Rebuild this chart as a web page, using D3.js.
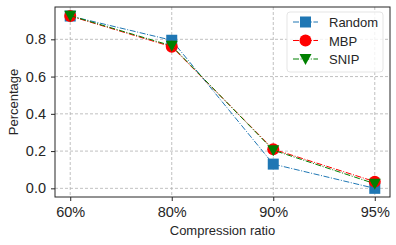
<!DOCTYPE html>
<html><head><meta charset="utf-8">
<script src="https://cdn.jsdelivr.net/npm/d3@7"></script>
<style>body{margin:0;background:#fff}svg{display:block}text{font-family:"Liberation Sans",Arial,sans-serif;fill:#262626}</style>
</head><body>
<svg id="c" width="396" height="245"></svg>
<script>
const categories = ["60%", "80%", "90%", "95%"];
const random = [0.925, 0.795, 0.13, 0.0];
const mbp = [0.925, 0.76, 0.21, 0.036];
const snip = [0.927, 0.765, 0.205, 0.025];
const yTicks = [0.0, 0.2, 0.4, 0.6, 0.8];
const seriesNames = ["Random", "MBP", "SNIP"];

const series = [
  {name: seriesNames[0], values: random, color: "#1f77b4", marker: "square"},
  {name: seriesNames[1], values: mbp, color: "#ff0000", marker: "circle"},
  {name: seriesNames[2], values: snip, color: "#008000", marker: "tridown"}
];

const svg = d3.select("#c");
const L = 55, R = 390, T = 7, B = 197;
const x = d3.scalePoint().domain(categories).range([L, R]).padding(0.15 / 1 * 1 / 1).align(0.5);
// padding in step units: matplotlib 5% margin of 3 steps = 0.15 step
x.padding(0.15);
const y = d3.scaleLinear().domain([-0.0465, 0.9735]).range([B, T]);

// grid
const g = svg.append("g");
g.selectAll(".gx").data(categories).enter().append("line")
  .attr("x1", d => x(d)).attr("x2", d => x(d)).attr("y1", T).attr("y2", B)
  .attr("stroke", "#b0b0b0").attr("stroke-width", 0.8).attr("stroke-dasharray", "3,2");
g.selectAll(".gy").data(yTicks).enter().append("line")
  .attr("x1", L).attr("x2", R).attr("y1", d => y(d)).attr("y2", d => y(d))
  .attr("stroke", "#b0b0b0").attr("stroke-width", 0.8).attr("stroke-dasharray", "3,2");

// axes
const xa = svg.append("g").attr("transform", `translate(0,${B})`)
  .call(d3.axisBottom(x).tickSize(4).tickPadding(6));
const ya = svg.append("g").attr("transform", `translate(${L},0)`)
  .call(d3.axisLeft(y).tickValues(yTicks).tickFormat(d3.format(".1f")).tickSize(4).tickPadding(5));
[xa, ya].forEach(a => {
  a.select(".domain").remove();
  a.selectAll("line").attr("stroke", "#262626").attr("stroke-width", 1);
  a.selectAll("text").attr("font-size", 14.5).attr("fill", "#262626")
    .style("font-family", '"Liberation Sans",Arial,sans-serif');
});

// frame
svg.append("rect").attr("x", L).attr("y", T).attr("width", R - L).attr("height", B - T)
  .attr("fill", "none").attr("stroke", "#262626").attr("stroke-width", 1);

// labels
svg.append("text").attr("x", (L + R) / 2).attr("y", 235).attr("text-anchor", "middle")
  .attr("font-size", 13).text("Compression ratio");
svg.append("text").attr("transform", `translate(18,${(T + B) / 2}) rotate(-90)`)
  .attr("text-anchor", "middle").attr("font-size", 13).text("Percentage");

function drawMarker(sel, type, color) {
  if (type === "square") {
    sel.append("rect").attr("x", -5.5).attr("y", -5.5).attr("width", 11).attr("height", 11).attr("fill", color);
  } else if (type === "circle") {
    sel.append("circle").attr("r", 6).attr("fill", color);
  } else {
    sel.append("path").attr("d", "M-6,-5 L6,-5 L0,6 Z").attr("fill", color);
  }
}

const line = d3.line().x((d, i) => x(categories[i])).y(d => y(d));
series.forEach(s => {
  svg.append("path").attr("d", line(s.values)).attr("fill", "none")
    .attr("stroke", s.color).attr("stroke-width", 1).attr("stroke-dasharray", "6,1.6,1,1.6");
  s.values.forEach((v, i) => {
    const m = svg.append("g").attr("transform", `translate(${x(categories[i])},${y(v)})`);
    drawMarker(m, s.marker, s.color);
  });
});

// legend
const lg = svg.append("g");
lg.append("rect").attr("x", 287).attr("y", 12).attr("width", 96).attr("height", 60).attr("rx", 3)
  .attr("fill", "#fff").attr("fill-opacity", 0.8).attr("stroke", "#e5e5e5").attr("stroke-width", 1);
series.forEach((s, i) => {
  const yy = 22 + i * 18.5;
  lg.append("line").attr("x1", 293).attr("x2", 318).attr("y1", yy).attr("y2", yy)
    .attr("stroke", s.color).attr("stroke-width", 1).attr("stroke-dasharray", "6,1.6,1,1.6");
  const m = lg.append("g").attr("transform", `translate(305.5,${yy})`);
  drawMarker(m, s.marker, s.color);
  lg.append("text").attr("x", 329).attr("y", yy + 5).attr("font-size", 13).text(s.name);
});
</script>
</body></html>
